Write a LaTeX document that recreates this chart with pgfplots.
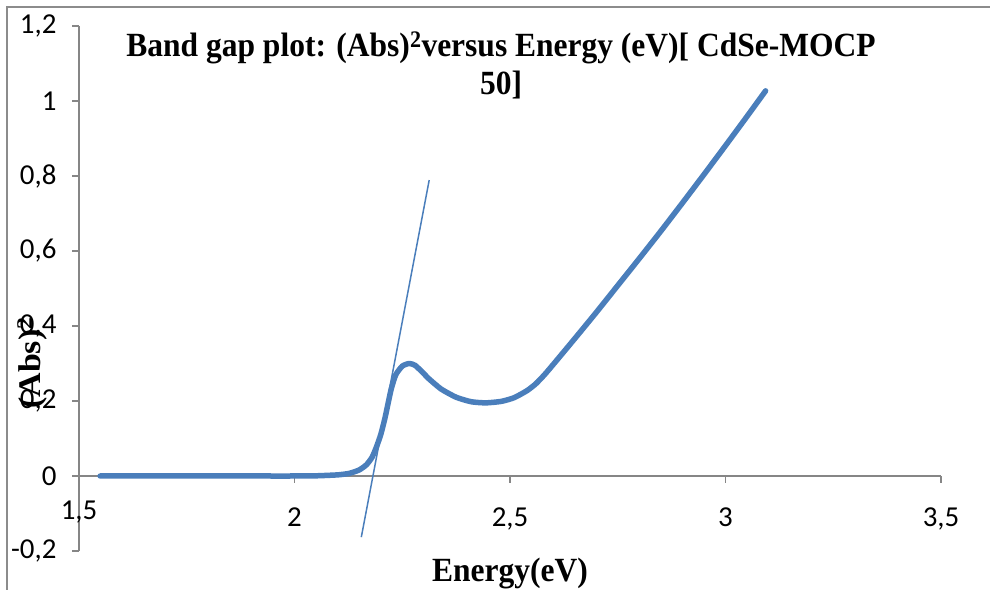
\documentclass[border=0pt]{standalone}
\usepackage{pgfplots}
\pgfplotsset{compat=1.18}
\usepackage{fontspec}
\setmainfont{Liberation Serif}
\newfontfamily\calib{Carlito}

\definecolor{curveblue}{HTML}{4A7EBB}
\definecolor{axgray}{HTML}{868686}
\definecolor{framegray}{HTML}{8C8C8C}

\newcommand{\bigbold}{\bfseries\fontsize{34}{40}\selectfont}
\newcommand{\tickfont}{\calib\fontsize{29}{33}\selectfont}

\begin{document}
\begin{tikzpicture}[x=1bp,y=1bp]
\path[use as bounding box] (0,0) rectangle (990,590);
% outer chart frame (top and left edges)
\draw[framegray, line width=1.4bp] (7,0) -- (7,583) -- (990,583);

\begin{axis}[
  at={(79bp,39bp)}, anchor=south west,
  scale only axis, width=862bp, height=525bp,
  xmin=1.5, xmax=3.5, ymin=-0.2, ymax=1.2,
  axis x line=middle, axis y line=left,
  axis line style={draw=axgray, line width=1.3bp, -},
  xtick={1.5,2,2.5,3,3.5},
  ytick={-0.2,0,0.2,0.4,0.6,0.8,1,1.2},
  tick align=outside,
  major tick length=7bp,
  tick style={draw=axgray, line width=1.2bp},
  /pgf/number format/use comma,
  /pgf/number format/assume math mode=true,
  ticklabel style={font=\tickfont, text=black},
  xticklabel style={anchor=base, yshift=-44bp},
  yticklabel style={anchor=east, xshift=-12bp},
  clip=false,
]
% (Abs)^2 against photon energy
\addplot[curveblue, line width=5.5bp, line cap=round, line join=round, smooth, tension=0.35] coordinates {
  (1.549,0) (1.6,0) (1.7,0) (1.8,0) (1.9,0) (2.0,0) (2.05,0.0005)
  (2.1,0.003) (2.127,0.007) (2.15,0.016) (2.167,0.03) (2.18,0.05)
  (2.19,0.077) (2.20,0.11) (2.21,0.155) (2.224,0.23) (2.235,0.27)
  (2.25,0.293) (2.266,0.300) (2.28,0.295) (2.30,0.273) (2.312,0.259)
  (2.34,0.232) (2.375,0.21) (2.41,0.198) (2.444,0.195) (2.48,0.199)
  (2.51,0.209) (2.54,0.228) (2.56,0.246) (2.58,0.27) (2.6,0.297)
  (2.65,0.366) (2.7,0.436) (2.75,0.508) (2.8,0.580) (2.85,0.653)
  (2.9,0.728) (2.95,0.804) (3.0,0.881) (3.05,0.959) (3.093,1.027)
};
% linear extrapolation of the absorption edge
\addplot[curveblue, line width=1.5bp] coordinates {(2.155,-0.163) (2.3125,0.789)};
% label of the first x tick, at the crossing with the y axis
\node[anchor=base, yshift=-44bp, font=\tickfont] at (axis cs:1.5,0) {1,5};
\end{axis}

% title
\node[anchor=base] at (501,533) {\bigbold\scalebox{0.93}[1]{Band gap plot: (Abs)\textsuperscript{2}versus Energy (eV)[ CdSe-MOCP}};
\node[anchor=base] at (501,495) {\bigbold\scalebox{0.93}[1]{50]}};
% axis titles
\node[anchor=base] at (510,8) {\bigbold\scalebox{0.93}[1]{Energy(eV)}};
\node[rotate=90] at (32,227) {\bigbold\scalebox{1}[0.93]{(Abs)\textsuperscript{2}}};
\end{tikzpicture}
\end{document}
